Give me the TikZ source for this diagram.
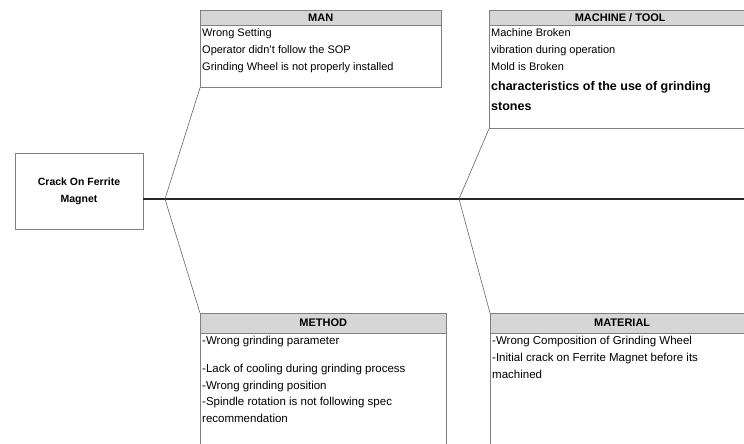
\documentclass[tikz,border=0pt]{standalone}
\usepackage{fontspec}
\setmainfont{Liberation Sans}
\usetikzlibrary{positioning}

\definecolor{boxline}{RGB}{128,128,128}
\definecolor{headfill}{RGB}{214,214,214}

\tikzset{
  effectbox/.style={draw=boxline, fill=white, align=center, minimum width=128pt, minimum height=76pt,
    font=\bfseries\fontsize{10.5}{17}\selectfont},
  headbox/.style={draw=boxline, fill=headfill, anchor=north west, minimum height=15pt, inner sep=0pt,
    font=\bfseries\fontsize{11}{13}\selectfont},
  bodybox/.style={draw=boxline, fill=white, anchor=north west, inner sep=0pt},
  itemtext/.style={anchor=north west, align=left, inner xsep=2pt, inner ysep=2.5pt,
    font=\fontsize{11}{17}\selectfont},
  bone/.style={draw=black!60, line width=0.6pt},
  spine/.style={draw=black!85, line width=2.4pt},
}
\newcommand{\boldcause}[1]{\textbf{\fontsize{12.5}{17}\selectfont #1}}

\begin{document}
\begin{tikzpicture}[x=1pt, y=-1pt]
  \useasboundingbox (0,0) rectangle (744,444);
  \clip (0,0) rectangle (744,444);

  % effect and spine
  \node[effectbox] (effect) at (79,191) {Crack On Ferrite\\Magnet};
  \coordinate (head) at (760,199);
  \coordinate (j1) at (165,199);
  \coordinate (j2) at (459,199);
  \draw[spine] (effect.east |- head) -- (head);

  % MAN
  \node[headbox, minimum width=241pt] (man) at (200,10) {MAN};
  \node[bodybox, minimum width=241pt, minimum height=62pt] (manbody) at (man.south west) {};
  \node[itemtext] (mantext) at (manbody.north west)
    {Wrong Setting\\Operator didn't follow the SOP\\Grinding Wheel is not properly installed};

  % MACHINE / TOOL
  \node[headbox, minimum width=262pt] (machine) at (489,10) {MACHINE / TOOL};
  \node[bodybox, minimum width=262pt, minimum height=103pt] (machinebody) at (machine.south west) {};
  \node[itemtext] (machinetext) at (machinebody.north west)
    {Machine Broken\\vibration during operation\\Mold is Broken\\[3pt]
     \boldcause{characteristics of the use of grinding}\\[3pt]
     \boldcause{stones}};

  % METHOD
  \node[headbox, minimum width=246pt, minimum height=20pt] (method) at (200,313) {METHOD};
  \node[bodybox, minimum width=246pt, minimum height=140pt] (methodbody) at (method.south west) {};
  \node[itemtext, font=\fontsize{11.5}{16.5}\selectfont] (methodtext) at (methodbody.north west)
    {-Wrong grinding parameter\\[12pt]-Lack of cooling during grinding process\\-Wrong grinding position\\
     -Spindle rotation is not following spec\\recommendation};

  % MATERIAL
  \node[headbox, minimum width=264pt, minimum height=20pt] (material) at (490,313) {MATERIAL};
  \node[bodybox, minimum width=264pt, minimum height=140pt] (materialbody) at (material.south west) {};
  \node[itemtext, font=\fontsize{11.5}{17}\selectfont] (materialtext) at (materialbody.north west)
    {-Wrong Composition of Grinding Wheel\\-Initial crack on Ferrite Magnet before its\\machined};

  % bones
  \draw[bone] (j1) -- (manbody.south west);
  \draw[bone] (j1) -- (method.north west);
  \draw[bone] (j2) -- (machinebody.south west);
  \draw[bone] (j2) -- (material.north west);
\end{tikzpicture}
\end{document}
